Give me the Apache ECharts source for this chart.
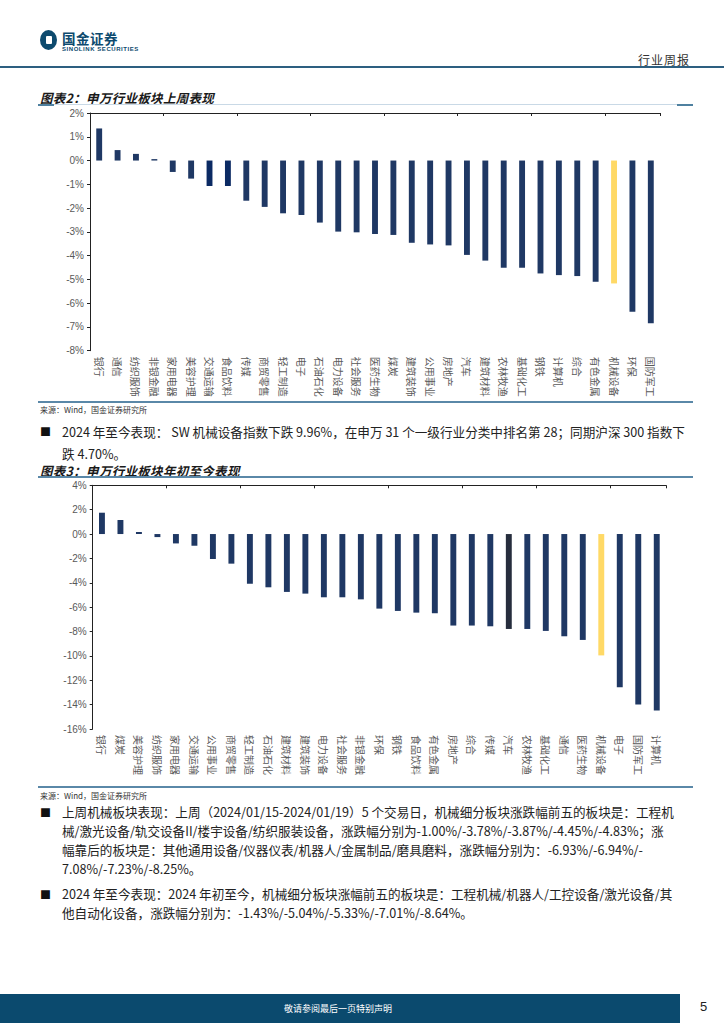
<!DOCTYPE html>
<html><head><meta charset="utf-8">
<script src="https://cdn.jsdelivr.net/npm/echarts@6/dist/echarts.min.js"></script>
<style>
html,body{margin:0;padding:0;background:#fff;}
body{width:724px;height:1024px;position:relative;overflow:hidden;font-family:"Noto Sans CJK SC","Noto Sans",sans-serif;color:#222;}
.abs{position:absolute;}
.title{font-size:12.5px;font-weight:bold;font-style:italic;color:#1a1a1a;white-space:nowrap;letter-spacing:0.3px;}
.src{font-size:8px;color:#333;white-space:nowrap;}
.para{font-size:12.6px;color:#222;white-space:nowrap;line-height:19px;}
.bullet{font-size:11px;color:#111;}
</style></head>
<body>
<!-- header -->
<div class="abs" style="left:40px;top:30px;width:17px;height:20px;border-radius:50%;background:#0d4a6e;"></div>
<div class="abs" style="left:46px;top:36px;width:6px;height:8px;background:#fff;border-radius:1px;"></div>
<div class="abs" style="left:62px;top:31px;font-size:13.5px;line-height:14px;font-weight:bold;color:#0d4a6e;white-space:nowrap;letter-spacing:0.5px;">国金证券</div>
<div class="abs" style="left:62px;top:46px;font-size:6px;line-height:6px;font-weight:bold;color:#0d4a6e;white-space:nowrap;font-family:'Liberation Sans',sans-serif;letter-spacing:0.55px;">SINOLINK SECURITIES</div>
<div class="abs" style="left:638px;top:51px;font-size:12px;color:#333;white-space:nowrap;letter-spacing:1px;">行业周报</div>
<div class="abs" style="left:0;top:66px;width:724px;height:1.5px;background:#2d5f80;"></div>

<!-- chart 2 title -->
<div class="abs title" style="left:40px;top:88px;">图表2：申万行业板块上周表现</div>
<div class="abs" style="left:38px;top:104px;width:655px;height:1px;background:#c9d9e6;"></div>
<div class="abs" style="left:38px;top:103.5px;width:16px;height:2px;background:#4f81a0;"></div>
<div class="abs" style="left:677px;top:103.5px;width:16px;height:2px;background:#4f81a0;"></div>
<div id="c1" class="abs" style="left:0;top:100px;width:724px;height:300px;"></div>
<div class="abs" style="left:38px;top:401px;width:655px;height:2px;background:#5a88a8;"></div>
<div class="abs src" style="left:40px;top:404px;">来源：Wind，国金证券研究所</div>

<div class="abs bullet" style="left:40px;top:423px;">■</div>
<div class="abs para" style="left:62px;top:421px;line-height:22px;">2024 年至今表现： SW 机械设备指数下跌 9.96%，在申万 31 个一级行业分类中排名第 28；同期沪深 300 指数下<br>跌 4.70%。</div>

<div class="abs title" style="left:40px;top:461px;">图表3：申万行业板块年初至今表现</div>
<div class="abs" style="left:38px;top:476px;width:655px;height:2px;background:#5a88a8;"></div>
<div id="c2" class="abs" style="left:0;top:478px;width:724px;height:300px;"></div>
<div class="abs" style="left:38px;top:786px;width:655px;height:2px;background:#5a88a8;"></div>
<div class="abs src" style="left:40px;top:790px;">来源：Wind，国金证券研究所</div>

<div class="abs bullet" style="left:40px;top:804px;">■</div>
<div class="abs para" style="left:62px;top:802px;">上周机械板块表现：上周（2024/01/15-2024/01/19）5 个交易日，机械细分板块涨跌幅前五的板块是：工程机<br>械/激光设备/轨交设备II/楼宇设备/纺织服装设备，涨跌幅分别为-1.00%/-3.78%/-3.87%/-4.45%/-4.83%；涨<br>幅靠后的板块是：其他通用设备/仪器仪表/机器人/金属制品/磨具磨料，涨跌幅分别为：-6.93%/-6.94%/-<br>7.08%/-7.23%/-8.25%。</div>

<div class="abs bullet" style="left:40px;top:886px;">■</div>
<div class="abs para" style="left:62px;top:884px;">2024 年至今表现：2024 年初至今，机械细分板块涨幅前五的板块是：工程机械/机器人/工控设备/激光设备/其<br>他自动化设备，涨跌幅分别为：-1.43%/-5.04%/-5.33%/-7.01%/-8.64%。</div>

<!-- footer -->
<div class="abs" style="left:0;top:994px;width:680px;height:29px;background:#0b4a6e;"></div>
<div class="abs" style="left:284px;top:1002px;font-size:9px;color:#fff;white-space:nowrap;">敬请参阅最后一页特别声明</div>
<div class="abs" style="left:700px;top:999px;font-size:13px;color:#222;font-family:'Liberation Sans',sans-serif;">5</div>

<script>
// ---- data ----
var cats1 = ['银行','通信','纺织服饰','非银金融','家用电器','美容护理','交通运输','食品饮料','传媒','商贸零售','轻工制造','电子','石油石化','电力设备','社会服务','医药生物','煤炭','建筑装饰','公用事业','房地产','汽车','建筑材料','农林牧渔','基础化工','钢铁','计算机','综合','有色金属','机械设备','环保','国防军工'];
var vals1 = [1.35,0.44,0.28,0.06,-0.48,-0.76,-1.07,-1.07,-1.69,-1.95,-2.22,-2.29,-2.61,-2.99,-3.02,-3.09,-3.13,-3.46,-3.53,-3.57,-3.97,-4.21,-4.51,-4.51,-4.75,-4.82,-4.86,-5.10,-5.17,-6.36,-6.85];
var ticks1 = {min:-8, max:2, interval:1};

var cats2 = ['银行','煤炭','美容护理','纺织服饰','家用电器','交通运输','公用事业','商贸零售','轻工制造','石油石化','建筑材料','建筑装饰','电力设备','社会服务','非银金融','环保','钢铁','食品饮料','有色金属','房地产','综合','传媒','汽车','农林牧渔','基础化工','通信','医药生物','机械设备','电子','国防军工','计算机'];
var vals2 = [1.75,1.15,0.16,-0.25,-0.77,-0.96,-2.05,-2.43,-4.07,-4.37,-4.75,-4.89,-5.19,-5.19,-5.36,-6.12,-6.31,-6.45,-6.50,-7.51,-7.51,-7.57,-7.79,-7.79,-7.95,-8.39,-8.69,-9.96,-12.57,-13.99,-14.48];
var ticks2 = {min:-16, max:4, interval:2};

// ---- styles ----
var NAVY = '#1f3864', YELLOW = '#ffd966';
var special1 = {'机械设备':YELLOW,'交通运输':'#0b2a63','食品饮料':'#0b2a63'};
var special2 = {'机械设备':YELLOW,'汽车':'#262d3d'};

function makeOption(cats, vals, tk, special, grid){
  return {
    animation:false,
    grid:grid,
    xAxis:[{
      type:'category', data:cats, position:'bottom',
      axisLine:{show:false}, axisTick:{show:false},
      axisLabel:{rotate:-90, interval:0, margin:6, color:'#595959', fontSize:10, fontFamily:'Noto Sans CJK SC'}
    },{
      type:'category', data:cats,
      axisLine:{show:true, onZero:true, lineStyle:{color:'#222', width:1}},
      axisTick:{show:true, inside:true, length:3, lineStyle:{color:'#222'}},
      axisLabel:{show:false}
    }],
    yAxis:{
      type:'value', min:tk.min, max:tk.max, interval:tk.interval,
      splitLine:{show:false},
      axisLine:{show:true, lineStyle:{color:'#222'}},
      axisTick:{show:true, length:3, lineStyle:{color:'#222'}},
      axisLabel:{formatter:'{value}%', color:'#595959', fontSize:10, margin:6, fontFamily:'Liberation Sans'}
    },
    series:[{
      type:'bar', xAxisIndex:1, barWidth:'32%',
      data:vals.map(function(v,i){return {value:v, itemStyle:{color:special[cats[i]]||NAVY}};})
    }]
  };
}

var c1 = echarts.init(document.getElementById('c1'), null, {renderer:'svg'});
c1.setOption(makeOption(cats1, vals1, ticks1, special1, {left:90, right:64, top:13, bottom:49.3}));
var c2 = echarts.init(document.getElementById('c2'), null, {renderer:'svg'});
c2.setOption(makeOption(cats2, vals2, ticks2, special2, {left:92.7, right:58, top:7.3, bottom:48.7}));
</script>
</body></html>
